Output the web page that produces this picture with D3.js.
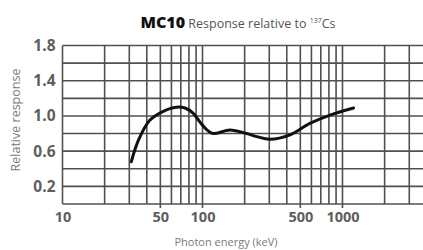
<!DOCTYPE html>
<html>
<head>
<meta charset="utf-8">
<script src="https://cdn.jsdelivr.net/npm/d3@7"></script>
<style>
  body { margin: 0; background: #fff; }
  svg { display: block; }
  .grid line { stroke: #505050; stroke-width: 1.6; }
  .axis text { font-family: "Open Sans", sans-serif; font-weight: 700; fill: #5e5e5e; }
  .axis path, .axis line { display: none; }
  .label { font-family: "Open Sans", sans-serif; fill: #7a7a7a; }
</style>
</head>
<body>
<div id="viz"></div>
<script>
// Photon energy (keV) and relative response
const energies = [31, 35, 42, 52, 65, 75, 86, 96, 107, 119, 157, 207, 244, 303, 422, 585, 815, 1200];
const response = [0.48, 0.73, 0.95, 1.05, 1.10, 1.09, 1.03, 0.93, 0.845, 0.80, 0.84, 0.80, 0.765, 0.735, 0.785, 0.915, 1.01, 1.09];

const xLabels = [10, 50, 100, 500, 1000];
const xLongTicks = [50, 100, 500, 1000];
const xGrid = [20, 30, 40, 50, 60, 70, 80, 90, 100, 200, 300, 400, 500, 600, 700, 800, 900, 1000, 2000, 3000];
const yLabels = [0.2, 0.6, 1.0, 1.4, 1.8];
const yGrid = [0.2, 0.4, 0.6, 0.8, 1.0, 1.2, 1.4, 1.6, 1.8];

const W = 423, H = 250;
const margin = {top: 45.5, right: 0, bottom: 46, left: 62.5};

const svg = d3.select("#viz")
    .append("svg")
        .attr("width", W)
        .attr("height", H);

const x = d3.scaleLog()
    .domain([10, 3760])
    .range([margin.left, W - margin.right]);

const y = d3.scaleLinear()
    .domain([0, 1.8])
    .range([H - margin.bottom, margin.top]);

const data = energies.map((e, i) => ({ e: e, r: response[i] }));

// grid
const grid = svg.append("g").attr("class", "grid");
grid.selectAll("line.h")
    .data(yGrid)
    .join("line")
        .attr("class", "h")
        .attr("x1", margin.left)
        .attr("x2", W)
        .attr("y1", d => y(d))
        .attr("y2", d => y(d));
grid.selectAll("line.v")
    .data(xGrid)
    .join("line")
        .attr("class", "v")
        .attr("x1", d => x(d))
        .attr("x2", d => x(d))
        .attr("y1", y(1.8))
        .attr("y2", d => xLongTicks.includes(d) ? y(0) + 4 : y(0));
// frame: left edge and bottom
grid.append("line")
    .attr("x1", x(10)).attr("x2", x(10))
    .attr("y1", y(1.8)).attr("y2", y(0));
grid.append("line")
    .attr("x1", x(10)).attr("x2", W)
    .attr("y1", y(0)).attr("y2", y(0));

// axes (labels only)
svg.append("g")
    .attr("class", "axis")
    .attr("transform", `translate(0, ${y(0)})`)
    .call(d3.axisBottom(x).tickValues(xLabels).tickFormat(d3.format("d")).tickSize(0).tickPadding(8))
    .selectAll("text").style("font-size", "14.5px");

svg.append("g")
    .attr("class", "axis")
    .attr("transform", `translate(${margin.left}, 0)`)
    .call(d3.axisLeft(y).tickValues(yLabels).tickFormat(d3.format(".1f")).tickSize(0).tickPadding(7))
    .selectAll("text").style("font-size", "15.5px");

// response curve
svg.append("path")
    .datum(data)
    .attr("fill", "none")
    .attr("stroke", "#111")
    .attr("stroke-width", 3)
    .attr("stroke-linecap", "round")
    .attr("d", d3.line()
        .x(d => x(d.e))
        .y(d => y(d.r))
        .curve(d3.curveCatmullRom.alpha(0.5)));

// title
const title = svg.append("text")
    .attr("x", 238)
    .attr("y", 28)
    .attr("text-anchor", "middle")
    .style("font-family", "'Open Sans', sans-serif");
title.append("tspan")
    .style("font-weight", 800)
    .style("font-size", "16px")
    .attr("fill", "#111")
    .text("MC10");
title.append("tspan")
    .style("font-size", "12.5px")
    .attr("fill", "#555")
    .text(" Response relative to ");
title.append("tspan")
    .style("font-size", "7px")
    .attr("fill", "#555")
    .attr("dy", -5)
    .text("137");
title.append("tspan")
    .style("font-size", "12.5px")
    .attr("fill", "#555")
    .attr("dy", 5)
    .text("Cs");

// axis titles
svg.append("text")
    .attr("class", "label")
    .attr("x", 226)
    .attr("y", 246)
    .attr("text-anchor", "middle")
    .style("font-size", "11px")
    .text("Photon energy (keV)");

svg.append("text")
    .attr("class", "label")
    .attr("transform", `translate(20, 120) rotate(-90)`)
    .attr("text-anchor", "middle")
    .style("font-size", "12.5px")
    .text("Relative response");
</script>
</body>
</html>
